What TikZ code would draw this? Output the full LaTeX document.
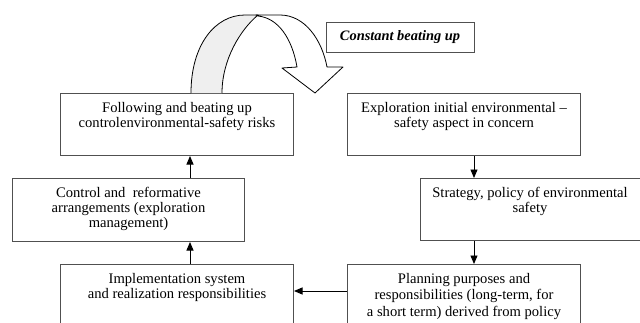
\documentclass[tikz,border=0pt]{standalone}
\usepackage{fontspec}
\setmainfont{Liberation Serif}
\usetikzlibrary{arrows.meta,calc}
\definecolor{edge}{HTML}{505050}
\definecolor{ribbon}{HTML}{EFEFEF}
\tikzset{
  box/.style={draw=edge, line width=1pt, minimum width=#1, minimum height=62pt, inner sep=0pt, anchor=north west},
  box/.default=233pt,
  txt/.style={align=center, font=\fontsize{14.6}{15.2}\selectfont, inner sep=0pt, anchor=north},
  arr/.style={line width=0.9pt, -{Triangle[length=8.5pt,width=7pt]}},
  band/.style={draw=black, line width=0.8pt, line join=round}
}
\begin{document}
\begin{tikzpicture}[x=1pt,y=-1pt]
\useasboundingbox (0,0) rectangle (640,322);
\clip (0,0) rectangle (640,322);
% boxes
\node[box] (F) at (60,93) {};
\node[box] (E) at (347,93) {};
\node[box=232pt,minimum height=63pt] (C) at (12,178) {};
\node[box=240pt] (S) at (420,178) {};
\node[box] (I) at (60,264) {};
\node[box] (P) at (347,264) {};
\node[draw=edge, line width=1pt, minimum width=148pt, minimum height=30pt, inner sep=0pt, font=\fontsize{14.4}{15}\selectfont\bfseries\itshape] (K) at (400,37) {Constant beating up};
% texts
\node[txt] (tF) at ($(F.north)+(0,9)$) {Following and beating up\\controlenvironmental-safety risks};
\node[txt] (tE) at ($(E.north)+(0,9)$) {Exploration initial environmental --\\safety aspect in concern};
\node[txt] (tC) at ($(C.north)+(0,9)$) {Control and\ \ reformative\\arrangements (exploration\\management)};
\node[txt] (tS) at ($(S.north west)+(110,9)$) {Strategy, policy of environmental\\safety};
\node[txt] (tI) at ($(I.north)+(0,9)$) {Implementation system\\and realization responsibilities};
\node[txt, font=\fontsize{14.6}{16.5}\selectfont] (tP) at ($(P.north)+(0,9)$) {Planning purposes and\\responsibilities (long-term, for\\a short term) derived from policy};
% connectors
\coordinate (xl) at (190,0);
\coordinate (xr) at (474,0);
\draw[arr] (C.north -| xl) -- (F.south -| xl);
\draw[arr] (I.north -| xl) -- (C.south -| xl);
\draw[arr] (E.south -| xr) -- (S.north -| xr);
\draw[arr] (S.south -| xr) -- (P.north -| xr);
\coordinate (ya) at (0,291);
\draw[arr] (P.west |- ya) -- (I.east |- ya);
% curved ribbon arrow
\coordinate (a1) at (191,93);
\coordinate (a2) at (222,93);
\filldraw[band, fill=ribbon] (a1) .. controls (191,45) and (215,15) .. (245,15) -- (258,15)
   .. controls (240,30) and (222,60) .. (a2);
\filldraw[band, fill=white] (256,15) -- (280,15) .. controls (305,15) and (322,40) .. (327,67)
   -- (343,67) -- (315,93) -- (282,68) -- (297,67)
   .. controls (292,38) and (278,18) .. (258,16) -- cycle;
\end{tikzpicture}
\end{document}
